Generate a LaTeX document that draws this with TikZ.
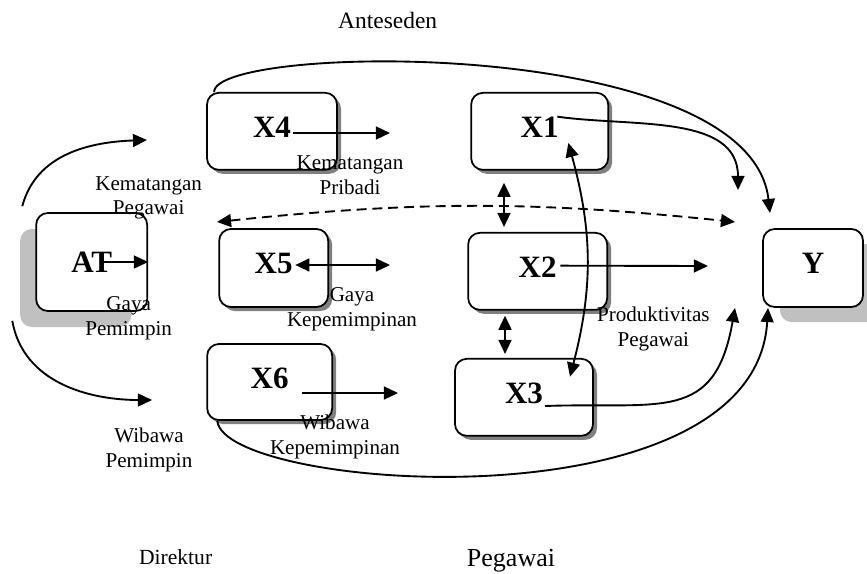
\documentclass[tikz,border=0pt]{standalone}
\usepackage{fontspec}
\setmainfont{Liberation Serif}
\usepackage{xcolor}
\definecolor{shadedark}{RGB}{128,128,128}
\definecolor{shadelight}{RGB}{192,192,192}
\usetikzlibrary{arrows.meta,calc,shadows}

\begin{document}
\begin{tikzpicture}[
  >={Triangle[length=12pt,width=11pt]},
  varbox/.style={draw, line width=1.5pt, rounded corners=10pt, fill=white, font=\fontsize{26.5}{30}\selectfont\bfseries, text depth=0.25cm, drop shadow={shadow xshift=0.12cm, shadow yshift=-0.12cm, fill=shadedark, opacity=1}},
  endbox/.style={draw, line width=1.5pt, rounded corners=10pt, fill=white, font=\fontsize{26.5}{30}\selectfont\bfseries},
  lbl/.style={font=\fontsize{18}{20.9}\selectfont, align=center, inner sep=0pt},
  link/.style={line width=1.6pt, ->},
  twoway/.style={line width=1.6pt, <->}]
  \useasboundingbox (0,0) rectangle (26.01,17.19);

  % headings
  \node[lbl, font=\fontsize{20}{24}\selectfont] (anteseden) at (11.63,16.59) {Anteseden};
  \node[lbl, font=\fontsize{18.4}{22}\selectfont] (direktur) at (5.27,0.48) {Direktur};
  \node[lbl, font=\fontsize{22.2}{26}\selectfont] (pegawai) at (15.33,0.36) {Pegawai};

  % boxes
  \node[endbox, text depth=0pt, minimum width=3.33cm, minimum height=2.94cm, drop shadow={shadow xshift=-0.48cm, shadow yshift=-0.48cm, fill=shadelight, opacity=1}] (at) at (2.75,9.33) {AT};
  \node[varbox, minimum width=3.9cm, minimum height=2.31cm] (x4) at (8.16,13.25) {X4};
  \node[varbox, minimum width=3.27cm, minimum height=2.34cm] (x5) at (8.21,9.15) {X5};
  \node[varbox, minimum width=3.75cm, minimum height=2.28cm] (x6) at (8.09,5.73) {X6};
  \node[varbox, minimum width=4.11cm, minimum height=2.31cm] (x1) at (16.19,13.25) {X1};
  \node[varbox, minimum width=4.17cm, minimum height=2.31cm] (x2) at (16.13,9.05) {X2};
  \node[varbox, minimum width=4.14cm, minimum height=2.31cm] (x3) at (15.72,5.27) {X3};
  \node[endbox, text depth=0.3cm, minimum width=3.0cm, minimum height=2.34cm, drop shadow={shadow xshift=0.51cm, shadow yshift=-0.45cm, fill=shadelight, opacity=1}] (y) at (24.39,9.15) {Y};

  % labels
  \node[lbl] (kpeg) at (4.46,11.25) {Kematangan\\Pegawai};
  \node[lbl] (gpem) at (3.86,7.64) {Gaya\\Pemimpin};
  \node[lbl] (wpem) at (4.47,3.69) {Wibawa\\Pemimpin};
  \node[lbl] (kpri) at (10.5,11.94) {Kematangan\\Pribadi};
  \node[lbl] (gkep) at (10.56,7.91) {Gaya\\Kepemimpinan};
  \node[lbl] (wkep) at (10.05,4.08) {Wibawa\\Kepemimpinan};
  \node[lbl] (prod) at (19.6,7.32) {Produktivitas\\Pegawai};

  % free ends
  \coordinate (up0) at (4.41,12.99);
  \coordinate (down0) at (4.56,5.19);
  \coordinate (kp) at (11.7,13.2);
  \coordinate (gk) at (11.7,9.24);
  \coordinate (wk) at (11.94,5.4);
  \coordinate (pp) at (21.24,9.21);
  \coordinate (y1) at (22.14,11.49);
  \coordinate (y4) at (23.1,10.8);
  \coordinate (y3) at (22.05,7.95);
  \coordinate (y6) at (23.04,7.95);
  \coordinate (dl) at (6.51,10.53);
  \coordinate (dr) at (22.05,10.53);

  % from AT
  \draw[link] ($(at.north west)+(-0.39,0.18)$) to[out=75,in=182] (up0);
  \draw[link] ($(at.south west)+(-0.69,-0.27)$) to[out=-80,in=180] (down0);
  \draw[link] ($(at.center)+(0.36,0)$) -- (at.east);

  % antecedent arrows
  \draw[link] ($(x4.center)+(0.63,-0.05)$) -- (kp);
  \draw[twoway] ($(x5.center)+(0.65,0.09)$) -- (gk);
  \draw[link] ($(x6.center)+(0.98,-0.33)$) -- (wk);

  % employee arrows
  \draw[link] ($(x2.center)+(0.68,0.17)$) -- (pp);
  \draw[twoway] ($(x1.south)+(-1.07,-0.36)$) -- ($(x2.north)+(-1.01,0.15)$);
  \draw[twoway] ($(x2.south)+(-0.98,-0.15)$) -- ($(x3.north)+(-0.57,0.12)$);
  \draw[twoway] ($(x3.center)+(1.38,0.62)$) to[bend right=15] ($(x1.center)+(0.86,-0.35)$);

  % towards Y
  \draw[link] ($(x1.center)+(0.53,0.44)$) to[out=-8,in=90] (y1);
  \draw[link] ($(x3.center)+(0.63,-0.26)$) to[out=2,in=-100,looseness=1.4] (y3);
  \draw[link] ($(x4.north west)+(0.24,0)$) .. controls +(0,1.45) and +(-0.6,5.34) .. (y4);
  \draw[link] ($(x6.south west)+(0.33,0)$) .. controls +(0.21,-2.1) and +(-0.39,-6.66) .. (y6);
  \draw[twoway, dash pattern=on 8.5pt off 5pt] (dl) to[bend left=6] (dr);
\end{tikzpicture}
\end{document}
